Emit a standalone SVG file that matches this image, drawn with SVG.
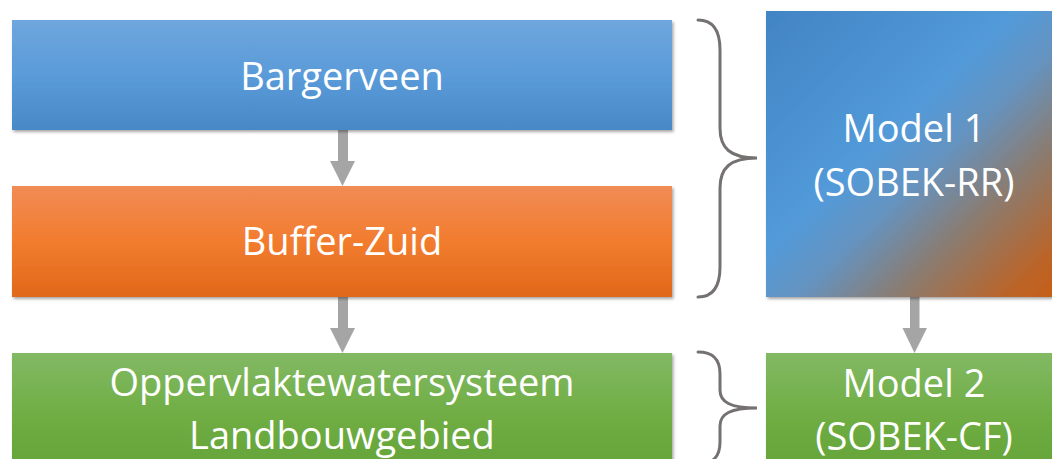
<svg xmlns="http://www.w3.org/2000/svg" width="1052" height="459" viewBox="0 0 1052 459">
  <defs>
    <linearGradient id="gBlue" x1="0" y1="0" x2="0" y2="1">
      <stop offset="0" stop-color="#6fa6dd"/>
      <stop offset="0.5" stop-color="#5a9bd9"/>
      <stop offset="1" stop-color="#4888c7"/>
    </linearGradient>
    <linearGradient id="gOrange" x1="0" y1="0" x2="0" y2="1">
      <stop offset="0" stop-color="#f18c56"/>
      <stop offset="0.5" stop-color="#f27c2e"/>
      <stop offset="1" stop-color="#e0681a"/>
    </linearGradient>
    <linearGradient id="gGreen" x1="0" y1="0" x2="0" y2="1">
      <stop offset="0" stop-color="#82b964"/>
      <stop offset="0.5" stop-color="#70ae45"/>
      <stop offset="1" stop-color="#64a337"/>
    </linearGradient>
    <linearGradient id="gMix" x1="0" y1="0" x2="1" y2="1">
      <stop offset="0" stop-color="#4284c4"/>
      <stop offset="0.42" stop-color="#529ad9"/>
      <stop offset="0.55" stop-color="#6593c0"/>
      <stop offset="0.72" stop-color="#8c7b6e"/>
      <stop offset="0.9" stop-color="#bb6428"/>
      <stop offset="1" stop-color="#c85e16"/>
    </linearGradient>
    <filter id="shadow" x="-5%" y="-10%" width="110%" height="125%">
      <feDropShadow dx="1.5" dy="2" stdDeviation="1.5" flood-color="#000" flood-opacity="0.35"/>
    </filter>
  </defs>
  <style>
    .box { filter: url(#shadow); }
    .lbl { font-family: "Open Sans", "Liberation Sans", sans-serif; font-size: 38px; fill: #ffffff; text-anchor: middle; }
    .arrow { fill: #a5a5a5; }
    .brace { fill: none; stroke: #767171; stroke-width: 3; stroke-linecap: round; }
  </style>
  <rect width="1052" height="459" fill="#ffffff"/>

  <g id="connectors">
    <g class="arrow">
      <rect x="338" y="130" width="10" height="32"/>
      <polygon points="330,161 355,161 342.5,186"/>
      <rect x="338" y="297" width="10" height="32"/>
      <polygon points="330,328 355,328 342.5,353"/>
      <rect x="910" y="297" width="9.5" height="32"/>
      <polygon points="902.5,328 927,328 914.5,353"/>
    </g>
    <path class="brace" d="M698,20 C713,20 720,30 720,50 L720,128 C720,148 730,158 757,158 C730,158 720,168 720,188 L720,267 C720,287 713,297 698,297"/>
    <path class="brace" d="M698,352 C713,352 720,359 720,374 L720,390 C720,402 730,408 757,408 C730,408 720,414 720,426 L720,442 C720,457 713,464 698,464"/>
  </g>

  <g id="bargerveen">
    <rect class="box" x="12" y="20" width="660" height="110" fill="url(#gBlue)"/>
    <text class="lbl" x="342" y="90">Bargerveen</text>
  </g>
  <g id="buffer-zuid">
    <rect class="box" x="12" y="186" width="660" height="111" fill="url(#gOrange)"/>
    <text class="lbl" x="342" y="255">Buffer-Zuid</text>
  </g>
  <g id="oppervlaktewatersysteem">
    <rect class="box" x="12" y="353" width="660" height="120" fill="url(#gGreen)"/>
    <text class="lbl" x="342" y="396">Oppervlaktewatersysteem</text>
    <text class="lbl" x="342" y="449">Landbouwgebied</text>
  </g>
  <g id="model1">
    <rect class="box" x="766" y="11" width="298" height="286" fill="url(#gMix)"/>
    <text class="lbl" x="914" y="142">Model 1</text>
    <text class="lbl" x="914" y="196">(SOBEK-RR)</text>
  </g>
  <g id="model2">
    <rect class="box" x="766" y="353" width="298" height="120" fill="url(#gGreen)"/>
    <text class="lbl" x="914" y="397">Model 2</text>
    <text class="lbl" x="914" y="450">(SOBEK-CF)</text>
  </g>
</svg>
